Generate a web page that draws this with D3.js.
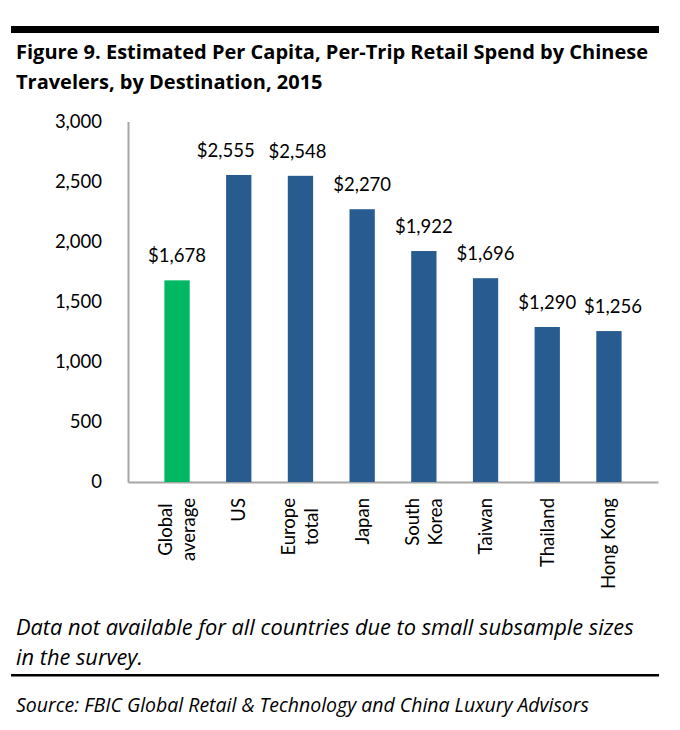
<!DOCTYPE html>
<html>
<head>
<meta charset="utf-8">
<script src="https://cdn.jsdelivr.net/npm/d3@7"></script>
<style>
  body { margin: 0; background: #fff; }
  text { font-family: Lato, "Open Sans", sans-serif; fill: #000; }
  .wide { font-family: "Open Sans", Lato, sans-serif; }
</style>
</head>
<body>
<svg id="chart" width="680" height="730"></svg>
<script>
// data
const categories = ["Global\naverage", "US", "Europe\ntotal", "Japan", "South\nKorea", "Taiwan", "Thailand", "Hong Kong"];
const spend = [1678, 2555, 2548, 2270, 1922, 1696, 1290, 1256];
const yTicks = [0, 500, 1000, 1500, 2000, 2500, 3000];
const titleLines = ["Figure 9. Estimated Per Capita, Per-Trip Retail Spend by Chinese", "Travelers, by Destination, 2015"];
const noteLines = ["Data not available for all countries due to small subsample sizes", "in the survey."];
const source = "Source: FBIC Global Retail & Technology and China Luxury Advisors";

const svg = d3.select("#chart");

// size a group of text lines so the first one spans `width` px
function fitLines(sel, width) {
  const first = sel.nodes()[0];
  const base = parseFloat(first.style.fontSize);
  const size = base * width / first.getComputedTextLength();
  sel.style("font-size", size + "px");
}

// rules top and bottom
svg.append("rect").attr("x", 11).attr("y", 26).attr("width", 648).attr("height", 7).attr("fill", "#000");
svg.append("rect").attr("x", 11).attr("y", 674).attr("width", 648).attr("height", 2.5).attr("fill", "#000");

const title = svg.selectAll(".title").data(titleLines).enter().append("text")
  .attr("class", "title wide")
  .attr("x", 16)
  .attr("y", (d, i) => 59 + i * 30)
  .style("font-size", "18px")
  .style("font-weight", "bold")
  .text(d => d);
fitLines(title, 632);

const x = d3.scaleBand()
  .domain(categories)
  .range([128, 658])
  .padding(0.59);   // bars ~27px wide

const y = d3.scaleLinear()
  .domain([0, 3000])
  .range([482, 121.5]);

// y axis
const yAxis = svg.append("g")
  .attr("transform", "translate(128,0)")
  .call(d3.axisLeft(y).tickValues(yTicks).tickSize(0).tickPadding(26).tickFormat(d3.format(",")));
yAxis.select(".domain").attr("stroke", "#a6a6a6").attr("stroke-width", 2);
yAxis.selectAll("text").style("font-size", "18.5px").attr("font-family", null);

// x axis, labels drawn separately (rotated, multi-line)
const xAxis = svg.append("g")
  .attr("transform", "translate(0,482)")
  .call(d3.axisBottom(x).tickSize(0).tickFormat(""));
xAxis.select(".domain").attr("stroke", "#a6a6a6").attr("stroke-width", 2);

svg.selectAll(".bar").data(spend).enter().append("rect")
  .attr("class", "bar")
  .attr("x", (d, i) => x(categories[i]))
  .attr("y", d => y(d))
  .attr("width", x.bandwidth())
  .attr("height", d => y(0) - y(d))
  .attr("fill", (d, i) => i === 0 ? "#00b862" : "#285b8f");

// a couple of value labels are nudged sideways in the original to avoid crowding
const nudge = {1: -13, 2: -3, 7: 4};
svg.selectAll(".val").data(spend).enter().append("text")
  .attr("class", "val")
  .attr("x", (d, i) => x(categories[i]) + x.bandwidth() / 2 + (nudge[i] || 0))
  .attr("y", d => y(d) - 18)
  .attr("text-anchor", "middle")
  .style("font-size", "18.5px")
  .text(d => "$" + d3.format(",")(d));

// category labels, rotated -90, block top-aligned under the axis
const labelSize = 18.5, lineGap = 23, labelTop = 498;
categories.forEach(c => {
  const lines = c.split("\n");
  const cx = x(c) + x.bandwidth() / 2;
  const g = svg.append("g");
  const texts = lines.map((l, j) => {
    const off = (j - (lines.length - 1) / 2) * lineGap + labelSize * 0.35;
    return g.append("text")
      .style("font-size", labelSize + "px")
      .attr("text-anchor", "middle")
      .datum(cx + off)
      .text(l);
  });
  const maxW = d3.max(texts, t => t.node().getComputedTextLength());
  texts.forEach(t => {
    t.attr("transform", `translate(${t.datum()},${labelTop + maxW / 2}) rotate(-90)`);
  });
});

const note = svg.selectAll(".note").data(noteLines).enter().append("text")
  .attr("class", "note wide")
  .attr("x", 16)
  .attr("y", (d, i) => 635 + i * 30)
  .style("font-size", "18px")
  .style("font-style", "italic")
  .text(d => d);
fitLines(note, 618);

const src = svg.append("text")
  .attr("class", "wide")
  .attr("x", 16)
  .attr("y", 712)
  .style("font-size", "17px")
  .style("font-style", "italic")
  .text(source);
fitLines(src, 573);
</script>
</body>
</html>
